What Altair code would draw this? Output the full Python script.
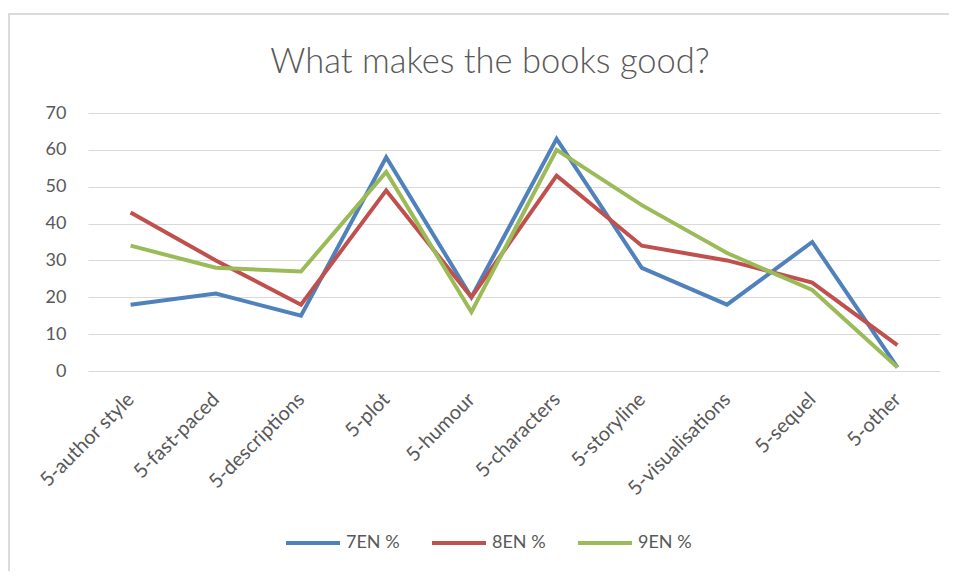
import altair as alt
import pandas as pd

categories = ["5-author style", "5-fast-paced", "5-descriptions", "5-plot", "5-humour",
              "5-characters", "5-storyline", "5-visualisations", "5-sequel", "5-other"]
series_names = ["7EN %", "8EN %", "9EN %"]
s7 = [18, 21, 15, 58, 20, 63, 28, 18, 35, 1]
s8 = [43, 30, 18, 49, 20, 53, 34, 30, 24, 7]
s9 = [34, 28, 27, 54, 16, 60, 45, 32, 22, 1]
colors = ["#4F81BD", "#C0504D", "#9BBB59"]
title_text = "What makes the books good?"

rows = []
for name, vals in zip(series_names, [s7, s8, s9]):
    for c, v in zip(categories, vals):
        rows.append({"category": c, "value": v, "series": name})
df = pd.DataFrame(rows)

W, H = 852, 258
FONT = "Lato"
GRAY = "#595959"

frame = alt.Chart(pd.DataFrame({"a": [0]})).mark_rect(
    fillOpacity=0, stroke="#D0D0D0", strokeWidth=1.5
).encode(
    x=alt.value(-79), x2=alt.value(880), y=alt.value(-99), y2=alt.value(467)
)

title = alt.Chart(pd.DataFrame({"t": [title_text]})).mark_text(
    font=FONT, fontSize=34.5, fontWeight=300, color=GRAY, align="center", baseline="alphabetic"
).encode(text="t:N", x=alt.value(402), y=alt.value(-40))

lines = alt.Chart(df).mark_line(strokeWidth=4).encode(
    x=alt.X("category:N", sort=categories, title=None,
            scale=alt.Scale(type="point", padding=0.5),
            axis=alt.Axis(labelAngle=-45, labelAlign="right", labelBaseline="middle",
                          labelPadding=25, ticks=False, domain=False,
                          labelFont=FONT, labelFontSize=20, labelColor=GRAY,
                          labelLimit=300)),
    y=alt.Y("value:Q", title=None,
            scale=alt.Scale(domain=[0, 70], nice=False),
            axis=alt.Axis(values=[0, 10, 20, 30, 40, 50, 60, 70], ticks=False, domain=False,
                          gridColor="#D9D9D9", gridWidth=1.2,
                          labelFont=FONT, labelFontSize=18, labelColor=GRAY,
                          labelPadding=22)),
    color=alt.Color("series:N", sort=series_names,
                    scale=alt.Scale(domain=series_names, range=colors),
                    legend=alt.Legend(title=None, orient="none", direction="horizontal",
                                      legendX=196, legendY=401,
                                      symbolType="stroke", symbolSize=2916,
                                      symbolStrokeWidth=4, columnPadding=24,
                                      labelFont=FONT, labelFontSize=18, labelColor=GRAY,
                                      labelOffset=4)),
)

chart = alt.layer(frame, title, lines).properties(
    width=W, height=H,
    autosize=alt.AutoSizeParams(type="none"),
    padding={"left": 80, "top": 105, "right": 9, "bottom": 200},
).configure_view(stroke=None)

chart.save("out.html", embed_options={"renderer": "svg", "actions": False})
